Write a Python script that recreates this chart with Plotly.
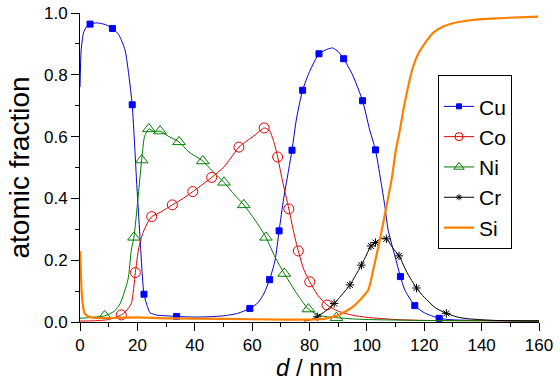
import plotly.graph_objects as go

# ---- data ----
cu_x = [0, 0.4, 1.2, 2.2, 3.5, 6, 9, 11.3, 13.5, 15.7, 17, 18.2, 19, 19.7, 20.9, 22.3, 23.5, 24.4, 27, 30, 33.7,
        40, 45, 50, 55, 59.2, 62, 64, 66.1, 68, 69.4, 71, 72.5, 73.9, 75.5, 77.6, 80, 83.3, 86, 88, 90, 91.9, 95,
        98.5, 101, 103, 104.8, 106.3, 107.4, 109.2, 111.7, 113.2, 116.7, 120, 125.2, 130, 140, 150, 160]
cu_y = [0.76, 0.88, 0.935, 0.955, 0.964, 0.968, 0.962, 0.95, 0.93, 0.88, 0.80, 0.703, 0.58, 0.46, 0.276, 0.09, 0.05,
        0.03, 0.022, 0.02, 0.018, 0.016, 0.017, 0.02, 0.028, 0.044, 0.062, 0.09, 0.137, 0.2, 0.295, 0.40, 0.48, 0.556,
        0.66, 0.75, 0.81, 0.868, 0.882, 0.887, 0.875, 0.852, 0.80, 0.716, 0.621, 0.557, 0.46, 0.373, 0.298, 0.233,
        0.147, 0.104, 0.053, 0.03, 0.012, 0.007, 0.005, 0.004, 0.004]
cu_mx = [3.5, 11.3, 18.2, 22.3, 33.7, 59.2, 66.1, 69.4, 73.9, 77.6, 83.3, 91.9, 98.5, 103, 111.7, 116.7, 125.2]
cu_my = [0.964, 0.95, 0.703, 0.09, 0.018, 0.044, 0.137, 0.295, 0.556, 0.75, 0.868, 0.852, 0.716, 0.557, 0.147, 0.053, 0.012]

co_x = [0, 5, 10, 14.4, 16, 17.9, 19.3, 20.5, 22, 23.5, 25, 28, 32.2, 36, 39.3, 42, 45.9, 50, 52.5, 55.4, 58, 61,
        64.2, 66, 67.5, 68.9, 70.5, 72.8, 74.5, 76.1, 78, 80.1, 83, 86.1, 90, 95, 100, 110, 120, 140, 160]
co_y = [0.003, 0.004, 0.008, 0.023, 0.035, 0.06, 0.16, 0.24, 0.29, 0.32, 0.341, 0.355, 0.379, 0.40, 0.422, 0.44,
        0.468, 0.50, 0.53, 0.566, 0.585, 0.605, 0.628, 0.62, 0.585, 0.534, 0.46, 0.366, 0.29, 0.23, 0.17, 0.13,
        0.085, 0.055, 0.035, 0.022, 0.015, 0.008, 0.005, 0.004, 0.003]
co_mx = [14.4, 19.3, 25, 32.2, 39.3, 45.9, 55.4, 64.2, 68.9, 72.8, 76.1, 80.1, 86.1]
co_my = [0.023, 0.16, 0.341, 0.379, 0.422, 0.468, 0.566, 0.628, 0.534, 0.366, 0.23, 0.13, 0.055]

ni_x = [0, 4, 8.6, 12, 14, 16.7, 17.9, 18.8, 20, 21.5, 22.5, 24, 26, 27.9, 31, 34.5, 38, 42.8, 46, 50.2, 54, 57.1,
        61, 64.8, 68, 71.2, 75, 79.6, 84, 89.4, 95, 100, 120, 160]
ni_y = [0.012, 0.015, 0.02, 0.035, 0.06, 0.136, 0.233, 0.274, 0.38, 0.524, 0.60, 0.625, 0.615, 0.618, 0.60, 0.583,
        0.55, 0.521, 0.49, 0.452, 0.41, 0.379, 0.33, 0.274, 0.21, 0.157, 0.10, 0.042, 0.02, 0.014, 0.01, 0.008,
        0.005, 0.004]
ni_mx = [8.6, 18.8, 21.5, 24, 27.9, 34.5, 42.8, 50.2, 57.1, 64.8, 71.2, 79.6, 89.4]
ni_my = [0.02, 0.274, 0.524, 0.625, 0.618, 0.583, 0.521, 0.452, 0.379, 0.274, 0.157, 0.042, 0.014]

cr_x = [78, 80, 82.7, 85.5, 88.6, 91, 94.1, 96, 98.1, 100, 101.4, 103, 105.1, 106.8, 109, 111.2, 114, 117.3, 120,
        124, 127.7, 132, 135.9, 145, 160]
cr_y = [0.003, 0.006, 0.017, 0.035, 0.06, 0.085, 0.12, 0.15, 0.184, 0.22, 0.246, 0.257, 0.271, 0.269, 0.24, 0.214,
        0.16, 0.11, 0.08, 0.045, 0.028, 0.015, 0.01, 0.005, 0.003]
cr_mx = [82.7, 88.6, 94.1, 98.1, 101.4, 103, 106.8, 111.2, 117.3, 127.7]
cr_my = [0.017, 0.06, 0.12, 0.184, 0.246, 0.257, 0.269, 0.214, 0.11, 0.028]

si_x = [0, 0.3, 0.7, 1.6, 3.8, 10, 20, 30, 50, 70, 80, 85, 87.1, 90, 92.5, 95.2, 98, 100.5, 102.2, 104.5, 106.8,
        108.6, 110, 111.5, 113, 116.1, 118, 120.2, 123, 126.6, 130, 134.7, 140, 146.3, 153, 159.7]
si_y = [0.23, 0.16, 0.082, 0.028, 0.015, 0.013, 0.015, 0.012, 0.01, 0.008, 0.008, 0.01, 0.014, 0.022, 0.034, 0.05,
        0.075, 0.104, 0.168, 0.265, 0.373, 0.46, 0.55, 0.621, 0.70, 0.826, 0.87, 0.902, 0.935, 0.956, 0.967, 0.975,
        0.98, 0.983, 0.986, 0.988]

X_TITLE = "<i>d</i> / nm"
Y_TITLE = "atomic fraction"

FONT = "Liberation Sans, Arial, sans-serif"

series = [
    ("Cu", cu_x, cu_y, cu_mx, cu_my, "#0000CC", "#0000FF", "square", 6, 1),
    ("Co", co_x, co_y, co_mx, co_my, "#E00000", "#E00000", "circle-open", 10, 1),
    ("Ni", ni_x, ni_y, ni_mx, ni_my, "#007A00", "#008000", "triangle-up-open", 11, 1),
    ("Cr", cr_x, cr_y, cr_mx, cr_my, "#000000", "#000000", "asterisk-open", 7, 1),
    ("Si", si_x, si_y, None, None, "#FF8000", "#FF8000", None, 0, 2.2),
]

fig = go.Figure()
for name, lx, ly, mx, my, lc, mc, sym, ms, lw in series:
    fig.add_trace(go.Scatter(x=lx, y=ly, mode="lines", showlegend=False, hoverinfo="skip",
                             line=dict(color=lc, width=lw, shape="spline", smoothing=0.6)))
    if mx is not None:
        fig.add_trace(go.Scatter(x=mx, y=my, mode="markers", showlegend=False,
                                 marker=dict(symbol=sym, size=ms, color=mc,
                                             line=dict(color=mc, width=1))))
# legend entries
for name, lx, ly, mx, my, lc, mc, sym, ms, lw in series:
    if sym is None:
        fig.add_trace(go.Scatter(x=[None], y=[None], mode="lines", name=name,
                                 line=dict(color=lc, width=lw)))
    else:
        fig.add_trace(go.Scatter(x=[None], y=[None], mode="lines+markers", name=name,
                                 line=dict(color=lc, width=lw),
                                 marker=dict(symbol=sym, size=max(ms - 2, 5), color=mc,
                                             line=dict(color=mc, width=1))))

axis_common = dict(showline=True, linecolor="black", linewidth=1, ticks="outside", ticklen=8, tickwidth=1,
                   tickcolor="black", showgrid=False, zeroline=False, mirror=False, automargin=False,
                   tickfont=dict(family=FONT, size=17, color="black"))

fig.update_layout(
    template="none",
    width=560, height=380,
    margin=dict(l=80, r=21, t=13, b=58, autoexpand=False),
    paper_bgcolor="white", plot_bgcolor="white",
    font=dict(family=FONT, color="black"),
    xaxis=dict(range=[0, 160], dtick=20, tick0=0,
               minor=dict(ticks="outside", ticklen=4, dtick=10, tickcolor="black", tickwidth=1),
               **axis_common),
    yaxis=dict(range=[0, 1.0], dtick=0.2, tick0=0, tickformat=".1f",
               minor=dict(ticks="outside", ticklen=4, dtick=0.1, tickcolor="black", tickwidth=1),
               title=dict(text=Y_TITLE, font=dict(family=FONT, size=28), standoff=6),
               **axis_common),
    legend=dict(x=0.78, y=0.80, xanchor="left", yanchor="top", bgcolor="white",
                bordercolor="black", borderwidth=1, font=dict(family=FONT, size=21),
                itemsizing="trace",
                title=dict(text=" ", font=dict(size=8))),
    showlegend=True,
    annotations=[dict(text=X_TITLE, xref="paper", yref="paper", x=0.5, y=-0.098,
                      xanchor="center", yanchor="top", showarrow=False,
                      font=dict(family=FONT, size=24, color="black"))],
)

fig.write_html("out.html", config={"displayModeBar": False},
               post_script="document.body.style.margin='0';document.body.style.overflow='hidden';")
